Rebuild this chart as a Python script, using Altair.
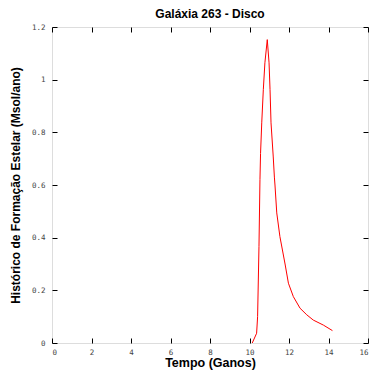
import altair as alt
import pandas as pd

tempo = [10.14, 10.36, 10.41, 10.48, 10.53, 10.56, 10.62, 10.70, 10.78, 10.90,
         10.99, 11.04, 11.09, 11.20, 11.26, 11.29, 11.38, 11.54, 11.80, 11.97,
         12.22, 12.56, 12.90, 13.23, 13.74, 14.20]
sfr = [0.0, 0.037, 0.10, 0.366, 0.62, 0.72, 0.836, 0.962, 1.064, 1.152,
       1.064, 0.962, 0.836, 0.71, 0.63, 0.60, 0.494, 0.404, 0.30, 0.227,
       0.176, 0.132, 0.107, 0.087, 0.068, 0.047]

x_ticks = [0, 2, 4, 6, 8, 10, 12, 14, 16]
y_ticks = [0, 0.2, 0.4, 0.6, 0.8, 1.0, 1.2]

df = pd.DataFrame({"t": tempo, "s": sfr})

tick_font = "DejaVu Sans Mono"
lab_col = "#444444"

xs = alt.Scale(domain=[0, 16], nice=False)
ys = alt.Scale(domain=[0, 1.2], nice=False)

def xaxis(orient, labels):
    return alt.Axis(orient=orient, values=x_ticks, domain=False, grid=False,
                    tickSize=5, offset=-5, tickColor="black", labels=labels,
                    labelFont=tick_font, labelFontSize=7.5, labelColor=lab_col,
                    labelPadding=5, title="Tempo (Ganos)" if labels else None,
                    titleFont="Liberation Sans", titleFontSize=12.5, titleFontWeight="bold",
                    titlePadding=1, titleColor="black")

def yaxis(orient, labels):
    return alt.Axis(orient=orient, values=y_ticks, domain=False, grid=False,
                    tickSize=5, offset=-5, tickColor="black", labels=labels,
                    labelFont=tick_font, labelFontSize=7.5, labelColor=lab_col,
                    labelPadding=7,
                    labelExpr="datum.value == 0 ? '0' : replace(format(datum.value, '.1f'), /\\.0$/, '')",
                    title="Histórico de Formação Estelar (Msol/ano)" if labels else None,
                    titleFont="Liberation Sans", titleFontSize=12, titleFontWeight="bold",
                    titlePadding=9, titleColor="black")

base = alt.Chart(df)

line = base.mark_line(color="#ff0000", strokeWidth=1).encode(
    x=alt.X("t:Q", scale=xs, axis=xaxis("bottom", True)),
    y=alt.Y("s:Q", scale=ys, axis=yaxis("left", True)),
)
mirror = base.mark_line(opacity=0).encode(
    x=alt.X("t:Q", scale=xs, axis=xaxis("top", False)),
    y=alt.Y("s:Q", scale=ys, axis=yaxis("right", False)),
)

chart = alt.layer(line, mirror).properties(
    width=316, height=316,
    title=alt.TitleParams("Galáxia 263 - Disco", font="Liberation Sans", fontSize=12,
                          fontWeight="bold", color="black", offset=2),
    autosize=alt.AutoSizeParams(type="none"),
    padding={"left": 52, "top": 27, "right": 6, "bottom": 29},
).configure_view(stroke="black", strokeWidth=1).configure(background="white")

chart.save("out.html", embed_options={"renderer": "svg", "actions": False})
